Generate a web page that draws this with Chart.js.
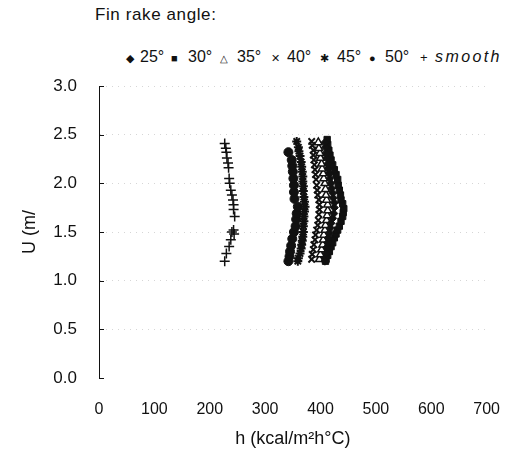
<!DOCTYPE html>
<html>
<head>
<meta charset="utf-8">
<script src="https://cdn.jsdelivr.net/npm/chart.js@4"></script>
<style>
  body { margin: 0; background: #fff; }
  #wrap { position: relative; width: 522px; height: 457px; font-family: "Liberation Sans", Arial, sans-serif; color: #111; }
  #cap { position: absolute; left: 95px; top: 5px; font-size: 17px; letter-spacing: 0.6px; }
  .it { position: absolute; top: 48px; font-size: 16px; white-space: nowrap; }
  .sym { position: absolute; top: 52px; font-size: 11px; }
  canvas { position: absolute; left: 0; top: 0; }
</style>
</head>
<body>
<div id="wrap">
  <div id="cap">Fin rake angle:</div>
  <span class="sym" style="left:126px">◆</span><span class="it" style="left:140px">25°</span>
  <span class="sym" style="left:171px">■</span><span class="it" style="left:188px">30°</span>
  <span class="sym" style="left:220px;font-size:10px;top:53px">△</span><span class="it" style="left:237px">35°</span>
  <span class="sym" style="left:271px">✕</span><span class="it" style="left:287px">40°</span>
  <span class="sym" style="left:320px">✱</span><span class="it" style="left:337px">45°</span>
  <span class="sym" style="left:369px">●</span><span class="it" style="left:385px">50°</span>
  <span class="sym" style="left:420px;font-size:13px;top:50px">+</span><span class="it" style="left:435px;font-style:italic;letter-spacing:2.4px">smooth</span>
  <canvas id="c" width="522" height="457"></canvas>
</div>
<script>
// Valeurs : U (m/s) et h (kcal/m²h°C) par angle
const u25 = [1.20, 1.24, 1.28, 1.34, 1.39, 1.44, 1.49, 1.54, 1.59, 1.64, 1.69, 1.75, 1.80, 1.85, 1.90, 1.95, 2.00, 2.05, 2.10, 2.15, 2.20, 2.26, 2.31, 2.37, 2.42];
const h25 = [408, 409, 410, 411, 413, 414, 416, 418, 419, 422, 424, 425, 425, 423, 422, 420, 419, 417, 416, 414, 413, 411, 410, 409, 408];

const u30 = [1.20, 1.22, 1.26, 1.30, 1.35, 1.39, 1.44, 1.48, 1.52, 1.56, 1.61, 1.66, 1.70, 1.74, 1.79, 1.83, 1.88, 1.93, 1.98, 2.04, 2.09, 2.14, 2.19, 2.24, 2.29, 2.34, 2.40, 2.45];
const h30 = [409, 410, 413, 416, 419, 422, 425, 428, 431, 434, 437, 440, 441, 442, 440, 437, 436, 434, 432, 431, 428, 425, 422, 419, 417, 415, 413, 412];

const u35 = [1.22, 1.27, 1.32, 1.37, 1.42, 1.47, 1.52, 1.57, 1.62, 1.67, 1.72, 1.78, 1.83, 1.88, 1.94, 2.00, 2.05, 2.10, 2.15, 2.20, 2.26, 2.31, 2.36, 2.42];
const h35 = [398, 400, 402, 404, 405, 406, 408, 409, 411, 412, 413, 413, 411, 410, 409, 408, 406, 405, 403, 402, 400, 399, 397, 396];

const u40 = [1.22, 1.27, 1.32, 1.37, 1.42, 1.47, 1.52, 1.57, 1.62, 1.68, 1.73, 1.78, 1.83, 1.88, 1.93, 1.98, 2.04, 2.09, 2.14, 2.19, 2.24, 2.29, 2.34, 2.39, 2.43];
const h40 = [384, 385, 387, 388, 390, 391, 393, 395, 396, 397, 398, 398, 397, 395, 394, 393, 392, 391, 390, 389, 388, 387, 387, 385, 384];

const u45 = [1.20, 1.23, 1.28, 1.33, 1.37, 1.41, 1.45, 1.50, 1.56, 1.61, 1.66, 1.71, 1.76, 1.81, 1.86, 1.92, 1.97, 2.02, 2.07, 2.12, 2.17, 2.22, 2.28, 2.33, 2.37, 2.43];
const h45 = [359, 360, 363, 365, 366, 367, 368, 369, 369, 370, 370, 371, 372, 371, 370, 369, 369, 368, 368, 367, 366, 365, 363, 361, 360, 357];

const u50 = [1.20, 1.25, 1.30, 1.36, 1.43, 1.50, 1.56, 1.63, 1.69, 1.76, 1.84, 1.91, 1.98, 2.05, 2.12, 2.18, 2.24, 2.32];
const h50 = [342, 344, 345, 347, 349, 352, 355, 356, 357, 359, 353, 352, 352, 351, 350, 349, 348, 342];

const uSmooth = [2.41, 2.36, 2.32, 2.26, 2.21, 2.16, 2.05, 2.00, 1.93, 1.88, 1.83, 1.78, 1.73, 1.66, 1.52, 1.50, 1.48, 1.42, 1.35, 1.28, 1.20];
const hSmooth = [227, 229, 230, 231, 233, 234, 235, 236, 238, 240, 242, 243, 243, 245, 243, 240, 244, 238, 235, 230, 227];

const yTicks = [0, 0.5, 1.0, 1.5, 2.0, 2.5, 3.0];
const xTicks = [0, 100, 200, 300, 400, 500, 600, 700];

const ink = "#111";
const pts = (h, u) => h.map((v, i) => ({ x: v, y: u[i] }));

function serie(nom, h, u, style, r, bw) {
  return {
    label: nom, data: pts(h, u), pointStyle: style, pointRadius: r,
    backgroundColor: ink, borderColor: ink, borderWidth: bw, showLine: false,
  };
}

const datasets = [
  serie("25°", h25, u25, "rectRot", 4, 1),
  serie("30°", h30, u30, "rect", 4.5, 1),
  serie("35°", h35, u35, "triangle", 4.5, 1.5),
  serie("40°", h40, u40, "crossRot", 4.5, 2),
  serie("45°", h45, u45, "star", 4.5, 2),
  serie("50°", h50, u50, "circle", 4.5, 1),
  serie("smooth", hSmooth, uSmooth, "cross", 5, 1.5),
];
datasets[2].backgroundColor = "#fff";

// petites graduations vers l'intérieur sur l'axe vertical
const innerTicks = {
  id: "innerTicks",
  afterDraw(chart) {
    const { ctx, chartArea, scales: { y } } = chart;
    ctx.save();
    ctx.strokeStyle = ink;
    ctx.lineWidth = 1;
    y.ticks.forEach((t) => {
      const py = Math.round(y.getPixelForValue(t.value)) + 0.5;
      ctx.beginPath();
      ctx.moveTo(chartArea.left, py);
      ctx.lineTo(chartArea.left + 5, py);
      ctx.stroke();
    });
    ctx.restore();
  },
};

const font = { family: "'Liberation Sans', Arial, sans-serif", size: 16 };
const titleFont = { family: "'Liberation Sans', Arial, sans-serif", size: 18 };

new Chart(document.getElementById("c"), {
  type: "scatter",
  data: { datasets },
  plugins: [innerTicks],
  options: {
    responsive: false,
    animation: false,
    layout: { padding: { top: 86, right: 29, left: 0, bottom: 0 } },
    plugins: { legend: { display: false }, tooltip: { enabled: false } },
    scales: {
      x: {
        min: 0, max: 700,
        afterBuildTicks: (s) => { s.ticks = xTicks.map((v) => ({ value: v })); },
        afterFit: (s) => { s.height = 79; },
        grid: { display: false, drawTicks: false },
        border: { display: false },
        ticks: { color: ink, font, padding: 22, maxRotation: 0 },
        title: { display: true, text: "h (kcal/m²h°C)", color: ink, font: titleFont, padding: { top: 0, bottom: 7 } },
      },
      y: {
        min: 0, max: 3,
        afterBuildTicks: (s) => { s.ticks = yTicks.map((v) => ({ value: v })); },
        afterFit: (s) => { s.width = 99; },
        grid: {
          drawTicks: false,
          color: (c) => (c.tick && c.tick.value === 0 ? "rgba(0,0,0,0)" : "#d6d6d6"),
        },
        border: { display: true, color: ink, width: 1, dash: [1, 5] },
        ticks: { color: ink, font: { ...font, size: 17 }, padding: 22, callback: (v) => v.toFixed(1) },
        title: { display: true, text: "U (m/", color: ink, font: titleFont, padding: { top: 19, bottom: 0 } },
      },
    },
  },
});
</script>
</body>
</html>
